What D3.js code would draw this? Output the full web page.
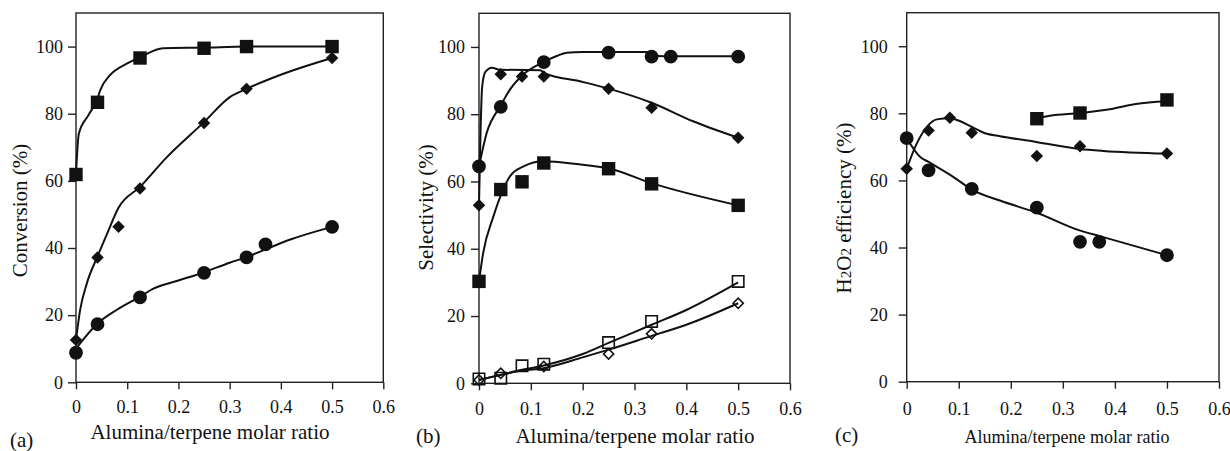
<!DOCTYPE html>
<html>
<head>
<meta charset="utf-8">
<script src="https://cdn.jsdelivr.net/npm/d3@7"></script>
<style>
  html, body { margin: 0; padding: 0; background: #fff; }
  svg { display: block; }
  text { font-family: "Liberation Serif", "Times New Roman", serif; fill: #111; }
</style>
</head>
<body>
<svg id="chart" width="1230" height="451"></svg>
<script>
// ---- shared axis settings ----
const xTickValues = [0, 0.1, 0.2, 0.3, 0.4, 0.5, 0.6];
const yTickValues = [0, 20, 40, 60, 80, 100];
const xDomain = [0, 0.6];
const yDomain = [0, 110];
const xTitleText = "Alumina/terpene molar ratio";

// ---- (a) conversion (%) vs alumina/terpene ratio ----
const convSquares  = [[0, 61.9], [0.042, 83.4], [0.125, 96.6], [0.25, 99.5], [0.333, 100], [0.5, 100]];
const convDiamonds = [[0, 12.6], [0.042, 37.2], [0.083, 46.3], [0.125, 57.7], [0.25, 77.2], [0.333, 87.4], [0.5, 96.6]];
const convCircles  = [[0, 8.8], [0.042, 17.3], [0.125, 25.3], [0.25, 32.6], [0.333, 37.2], [0.37, 41.1], [0.5, 46.3]];
// fitted trend lines
const convSquaresFit  = [[0, 62], [0.0055, 74], [0.024, 79.5], [0.042, 84.5], [0.047, 86.9], [0.066, 91.4], [0.099, 94.9], [0.125, 96.8], [0.17, 99.5], [0.25, 99.7], [0.333, 100], [0.5, 100]];
const convDiamondsFit = [[0, 12.6], [0.008, 21.5], [0.021, 29.4], [0.042, 37.5], [0.06, 44], [0.083, 52], [0.125, 58.2], [0.177, 67], [0.25, 77.5], [0.301, 85], [0.333, 87.4], [0.405, 91.9], [0.5, 96.6]];
const convCirclesFit  = [[0, 10], [0.042, 17.5], [0.08, 21.6], [0.125, 25.5], [0.15, 27.8], [0.2, 30.3], [0.25, 32.8], [0.3, 35.6], [0.333, 37.3], [0.37, 39.6], [0.42, 42.6], [0.5, 46.3]];

// ---- (b) selectivity (%) vs alumina/terpene ratio ----
const selCircles      = [[0, 64.5], [0.042, 82.2], [0.125, 95.5], [0.25, 98.3], [0.333, 97.1], [0.37, 97.1], [0.5, 97.1]];
const selDiamonds     = [[0, 52.9], [0.042, 91.9], [0.083, 91.2], [0.125, 91.2], [0.25, 87.6], [0.333, 81.9], [0.5, 73]];
const selSquares      = [[0, 30.3], [0.042, 57.6], [0.083, 59.9], [0.125, 65.5], [0.25, 63.8], [0.333, 59.3], [0.5, 52.9]];
const selOpenSquares  = [[0, 1.3], [0.042, 1.5], [0.083, 5.2], [0.125, 5.7], [0.25, 12.1], [0.333, 18.4], [0.5, 30.3]];
const selOpenDiamonds = [[0, 1], [0.042, 3], [0.125, 5], [0.25, 8.7], [0.333, 14.7], [0.5, 23.8]];
// fitted trend lines
const selCirclesFit      = [[0, 64.5], [0.015, 74.5], [0.042, 82.6], [0.06, 87.4], [0.086, 91.9], [0.124, 95.5], [0.15, 97.3], [0.169, 98.3], [0.2, 98.5], [0.33, 98.5], [0.345, 97.3], [0.37, 97.2], [0.5, 97.2]];
const selDiamondsFit     = [[0, 52.9], [0.003, 75], [0.006, 88], [0.012, 92.5], [0.025, 93.8], [0.04, 93.2], [0.118, 93.1], [0.125, 92.3], [0.2, 89.6], [0.25, 87.6], [0.333, 83.4], [0.413, 77.9], [0.5, 73]];
const selSquaresFit      = [[0, 30.3], [0.008, 38.7], [0.028, 49.7], [0.044, 56.6], [0.06, 61.6], [0.086, 64.5], [0.124, 66], [0.188, 65.2], [0.253, 63.8], [0.333, 59.5], [0.5, 52.9]];
const selOpenSquaresFit  = [[0, 1], [0.042, 2.5], [0.083, 4], [0.125, 5.3], [0.2, 8.7], [0.25, 12], [0.333, 17.4], [0.4, 21.8], [0.5, 30]];
const selOpenDiamondsFit = [[0, 1], [0.042, 2.5], [0.083, 3.8], [0.125, 4.5], [0.2, 7.7], [0.25, 10], [0.333, 14.1], [0.4, 17.4], [0.5, 23.8]];

// ---- (c) H2O2 efficiency (%) vs alumina/terpene ratio ----
const effSquares  = [[0.25, 78.4], [0.333, 80.1], [0.5, 84]];
const effDiamonds = [[0, 63.5], [0.042, 74.9], [0.083, 78.7], [0.125, 74.2], [0.25, 67.3], [0.333, 70.2], [0.5, 68]];
const effCircles  = [[0, 72.6], [0.042, 63], [0.125, 57.5], [0.25, 51.9], [0.333, 41.7], [0.37, 41.7], [0.5, 37.7]];
// fitted trend lines
const effSquaresFit  = [[0.25, 78.6], [0.275, 79.3], [0.333, 80.1], [0.39, 81.2], [0.44, 82.8], [0.5, 83.6]];
const effDiamondsFit = [[0, 63.5], [0.019, 70.9], [0.04, 76.2], [0.058, 78.2], [0.083, 78.5], [0.102, 77.7], [0.126, 75.9], [0.154, 73.9], [0.179, 73.2], [0.251, 71.4], [0.332, 69.4], [0.378, 68.8], [0.5, 68]];
const effCirclesFit  = [[0, 72.6], [0.026, 67], [0.042, 65.5], [0.09, 61], [0.126, 57.2], [0.179, 54], [0.251, 50.3], [0.332, 45.1], [0.371, 43.4], [0.5, 37.7]];

// ---- marker styles ----
const markerStyles = {
  square:      { type: d3.symbolSquare, size: 180, fill: "#111", stroke: "none", rotate: 0 },
  circle:      { type: d3.symbolCircle, size: 150, fill: "#111", stroke: "none", rotate: 0 },
  diamond:     { type: d3.symbolSquare, size: 78,  fill: "#111", stroke: "none", rotate: 45 },
  openSquare:  { type: d3.symbolSquare, size: 130, fill: "none", stroke: "#111", rotate: 0 },
  openDiamond: { type: d3.symbolSquare, size: 52,  fill: "none", stroke: "#111", rotate: 45 }
};

// ---- panel layout ----
const panels = [
  {
    left: 76, right: 383.3, top: 13, bottom: 382.3,
    yPad: 5, xPad: 11,
    yTitle: [{ t: "Conversion (%)" }], yTitleX: 27, yTitleY: 210.5,
    xTitleX: 210, xTitleY: 439, xTitleSize: 21,
    tag: "(a)", tagX: 10, tagY: 447,
    series: [
      { pts: convSquares, fit: convSquaresFit, marker: "square" },
      { pts: convDiamonds, fit: convDiamondsFit, marker: "diamond" },
      { pts: convCircles, fit: convCirclesFit, marker: "circle" }
    ]
  },
  {
    left: 479, right: 790, top: 13.3, bottom: 383.3,
    yPad: 6, xPad: 12,
    yTitle: [{ t: "Selectivity (%)" }], yTitleX: 433, yTitleY: 207.5,
    xTitleX: 635, xTitleY: 443, xTitleSize: 21,
    tag: "(b)", tagX: 416, tagY: 443,
    series: [
      { pts: selCircles, fit: selCirclesFit, marker: "circle" },
      { pts: selDiamonds, fit: selDiamondsFit, marker: "diamond" },
      { pts: selSquares, fit: selSquaresFit, marker: "square" },
      { pts: selOpenSquares, fit: selOpenSquaresFit, marker: "openSquare" },
      { pts: selOpenDiamonds, fit: selOpenDiamondsFit, marker: "openDiamond" }
    ]
  },
  {
    left: 906.7, right: 1219, top: 12.7, bottom: 381.7,
    yPad: 11, xPad: 13.5,
    yTitle: [{ t: "H" }, { t: "2", sub: true }, { t: "O" }, { t: "2", sub: true }, { t: " efficiency (%)" }],
    yTitleX: 851, yTitleY: 208,
    xTitleX: 1067, xTitleY: 443, xTitleSize: 18,
    tag: "(c)", tagX: 835, tagY: 442,
    series: [
      { pts: effSquares, fit: effSquaresFit, marker: "square" },
      { pts: effDiamonds, fit: effDiamondsFit, marker: "diamond" },
      { pts: effCircles, fit: effCirclesFit, marker: "circle" }
    ]
  }
];

const svg = d3.select("#chart");

panels.forEach(p => {
  const x = d3.scaleLinear().domain(xDomain).range([p.left, p.right]);
  const y = d3.scaleLinear().domain(yDomain).range([p.bottom, p.top]);
  const g = svg.append("g");

  // frame
  g.append("rect")
    .attr("x", p.left).attr("y", p.top)
    .attr("width", p.right - p.left).attr("height", p.bottom - p.top)
    .attr("fill", "none").attr("stroke", "#222").attr("stroke-width", 1.4);

  // y axis
  const ya = g.append("g")
    .attr("transform", `translate(${p.left},0)`)
    .call(d3.axisLeft(y).tickValues(yTickValues).tickSize(8).tickPadding(p.yPad).tickFormat(d3.format("d")));
  ya.select(".domain").remove();
  ya.selectAll("line").attr("stroke", "#222").attr("stroke-width", 1.4);
  ya.selectAll("text").attr("font-size", 18).attr("font-family", null).attr("fill", "#111");

  // x axis
  const xa = g.append("g")
    .attr("transform", `translate(0,${p.bottom})`)
    .call(d3.axisBottom(x).tickValues(xTickValues).tickSize(7).tickPadding(p.xPad).tickFormat(d => d === 0 ? "0" : d3.format(".1f")(d)));
  xa.select(".domain").remove();
  xa.selectAll("line").attr("stroke", "#222").attr("stroke-width", 1.4);
  xa.selectAll("text").attr("font-size", 18).attr("font-family", null).attr("fill", "#111");

  // trend lines
  const line = d3.line().x(d => x(d[0])).y(d => y(d[1])).curve(d3.curveMonotoneX);
  p.series.forEach(s => {
    g.append("path").datum(s.fit)
      .attr("d", line)
      .attr("fill", "none").attr("stroke", "#111").attr("stroke-width", 2);
  });

  // markers
  p.series.forEach(s => {
    const st = markerStyles[s.marker];
    const sym = d3.symbol().type(st.type).size(st.size);
    g.append("g").selectAll("path").data(s.pts).join("path")
      .attr("d", sym)
      .attr("transform", d => `translate(${x(d[0])},${y(d[1])}) rotate(${st.rotate})`)
      .attr("fill", st.fill)
      .attr("stroke", st.stroke)
      .attr("stroke-width", 1.6);
  });

  // y title
  const yt = g.append("text")
    .attr("transform", `translate(${p.yTitleX},${p.yTitleY}) rotate(-90)`)
    .attr("text-anchor", "middle")
    .attr("font-size", 21);
  p.yTitle.forEach(part => {
    yt.append("tspan").text(part.t).attr("font-size", part.sub ? 15 : null);
  });

  // x title
  g.append("text")
    .attr("x", p.xTitleX).attr("y", p.xTitleY)
    .attr("text-anchor", "middle")
    .attr("font-size", p.xTitleSize)
    .text(xTitleText);

  // panel tag
  g.append("text")
    .attr("x", p.tagX).attr("y", p.tagY)
    .attr("font-size", 21)
    .text(p.tag);
});
</script>
</body>
</html>
